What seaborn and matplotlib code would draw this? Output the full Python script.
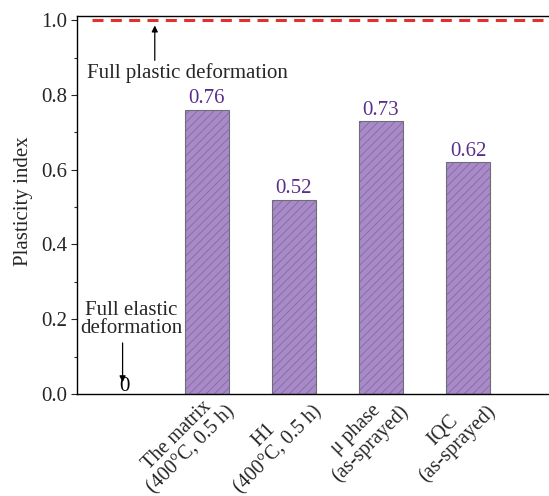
import matplotlib
matplotlib.use("Agg")
import matplotlib.pyplot as plt
import matplotlib.transforms as mtransforms
import seaborn as sns
import pandas as pd

# data
categories = [
    " ",
    "The matrix\n(400°C, 0.5 h)",
    "H1\n(400°C, 0.5 h)",
    "μ phase\n(as-sprayed)",
    "IQC\n(as-sprayed)",
]
bar_labels = categories[1:]
plasticity = [0.76, 0.52, 0.73, 0.62]
value_text = ["0.76", "0.52", "0.73", "0.62"]

FS = 15

sns.set_style("ticks")
plt.rcParams["font.family"] = ["Liberation Serif", "DejaVu Serif"]
plt.rcParams["hatch.linewidth"] = 0.6

df = pd.DataFrame({"sample": bar_labels, "index": plasticity})

fig = plt.figure(figsize=(5.49, 4.96), dpi=100)
ax = fig.add_axes([77 / 549, 1 - 394 / 496, 472 / 549, 378 / 496])

# filled hatched bars (hatch takes the edge colour), then grey outlines on top
sns.barplot(
    data=df, x="sample", y="index", order=categories,
    color="#a88bc6", saturation=1, width=0.5,
    edgecolor="#8467aa", linewidth=0, ax=ax,
)
for p in ax.patches:
    p.set_hatch("////")
sns.barplot(
    data=df, x="sample", y="index", order=categories,
    fill=False, color="#6e6e76", saturation=1, width=0.5,
    linewidth=0.8, ax=ax,
)

# value labels
for i, (v, t) in enumerate(zip(plasticity, value_text)):
    ax.text(i + 1, v + 0.004, t, ha="center", va="bottom", fontsize=FS, color="#5a2f8a")
ax.text(0.05, -0.005, "0", ha="center", va="bottom", fontsize=FS, color="black")

# full plastic line
ax.hlines(1.0, -0.32, 5.0, colors="#e3302e", linewidth=2.2, linestyles=(0, (3.6, 2.4)))
ax.annotate(
    "", xy=(0.40, 0.993), xytext=(0.40, 0.885),
    arrowprops=dict(arrowstyle="-|>", color="black", lw=0.9, mutation_scale=9),
)
ax.text(0.78, 0.858, "Full plastic deformation", ha="center", va="center", fontsize=FS)

# full elastic
ax.text(0.13, 0.199, "Full elastic\ndeformation", ha="center", va="center",
        fontsize=FS, linespacing=0.92)
ax.annotate(
    "", xy=(0.03, 0.024), xytext=(0.03, 0.144),
    arrowprops=dict(arrowstyle="-|>", color="black", lw=0.9, mutation_scale=9),
)

ax.set_xlim(-0.494, 4.931)
ax.set_ylim(0, 1.011)
ax.set_yticks([0.0, 0.2, 0.4, 0.6, 0.8, 1.0])
ax.set_yticks([0.1, 0.3, 0.5, 0.7, 0.9], minor=True)
ax.set_yticklabels(["0.0", "0.2", "0.4", "0.6", "0.8", "1.0"], fontsize=FS)
ax.tick_params(axis="y", which="major", length=4, width=0.8, direction="out", pad=3)
ax.tick_params(axis="y", which="minor", length=2.5, width=0.8, direction="out")
ax.tick_params(axis="x", length=0, pad=0)
ax.set_xticks(range(len(categories)))
ax.set_xticklabels(categories, rotation=45, ha="right", va="top",
                   rotation_mode="anchor", fontsize=14.5, multialignment="center",
                   linespacing=1.05)
shift = mtransforms.ScaledTranslation(4 / 100, 6 / 100, fig.dpi_scale_trans)
for lbl in ax.get_xticklabels():
    lbl.set_transform(lbl.get_transform() + shift)

ax.set_xlabel("")
ax.set_ylabel("Plasticity index", fontsize=FS)
ax.yaxis.set_label_coords(-0.093, 0.51)
for s in ["left", "bottom", "top"]:
    ax.spines[s].set_color("black")
    ax.spines[s].set_linewidth(1.0)
ax.spines["right"].set_visible(False)

fig.savefig("out.png", dpi=100)
